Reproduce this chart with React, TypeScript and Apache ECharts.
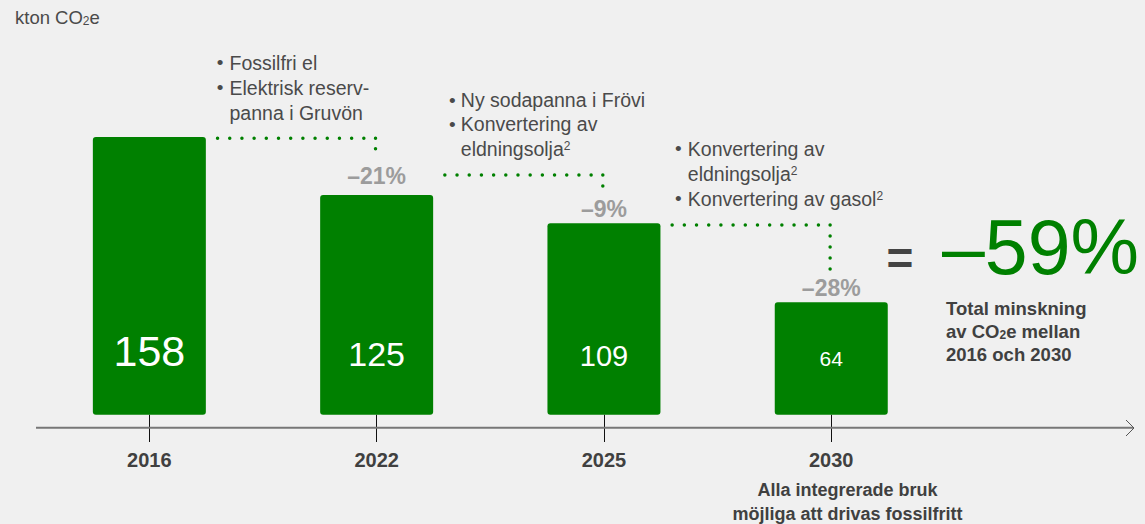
import React, { useEffect, useRef } from "react";
import * as echarts from "echarts";

// ---- Data ----
const years = ["2016", "2022", "2025", "2030"];
const emissions = [158, 125, 109, 64];
const changes: (number | null)[] = [null, -21, -9, -28];
const totalChange = -59;
const unitMain = "kton CO";
const noteGroups: string[][] = [
  ["Fossilfri el", "Elektrisk reserv-", "panna i Gruvön"],
  ["Ny sodapanna i Frövi", "Konvertering av", "eldningsolja{s|2}"],
  ["Konvertering av", "eldningsolja{s|2}", "Konvertering av gasol{s|2}"],
];
const noteBullets: boolean[][] = [
  [true, true, false],
  [true, true, false],
  [true, false, true],
];
// connectors (step from one bar to the next), in data units
const connStartX = [0.3, 1.3, 2.3];
const connTargetX = [0.995, 1.995, 2.995];
const connLevel = [157.3, 136.4, 108.0];
const connEnd = [145.4, 129.8, 82.9];
const totalText = ["Total minskning", "av CO{s|2}e mellan", "2016 och 2030"];
const footText = ["Alla integrerade bruk", "möjliga att drivas fossilfritt"];

// ---- Styles ----
const GREEN = "#008000";
const DARK = "#4a4a4a";
const BOLDTXT = "#404040";
const valueFontSizes = [43, 34, 29, 21];
const changeGaps = [0, 8, 3, 3];
const FONT = '"Liberation Sans", Arial, Helvetica, sans-serif';

const fmtChange = (c: number) => "\u2013" + Math.abs(c) + "%";

export default function App() {
  const ref = useRef<HTMLDivElement>(null);
  useEffect(() => {
    if (!ref.current) return;
    const chart = echarts.init(ref.current, null, { renderer: "svg" });

    const noteLayout = [
      { bx: 220, tx: 229.5, top: 50, lh: 25.3 },
      { bx: 452.3, tx: 460.8, top: 88, lh: 24.2 },
      { bx: 678.3, tx: 687.8, top: 136.3, lh: 25 },
    ];

    const graphics: any[] = [];
    // unit label
    graphics.push({
      type: "text",
      left: 15,
      top: 8,
      style: {
        text: "{a|" + unitMain + "}{s|2}{a|e}",
        rich: {
          a: { fontSize: 18.5, lineHeight: 23, verticalAlign: "bottom", fill: DARK, fontFamily: FONT },
          s: { fontSize: 12, lineHeight: 12, verticalAlign: "bottom", fill: DARK, fontFamily: FONT },
        },
      },
    });
    noteGroups.forEach((lines, gi) => {
      const L = noteLayout[gi];
      graphics.push({
        type: "text",
        x: L.bx,
        y: L.top,
        style: {
          text: noteBullets[gi].map((b) => (b ? "•" : " ")).join("\n"),
          fontSize: 19,
          lineHeight: L.lh,
          align: "center",
          verticalAlign: "top",
          fill: DARK,
          fontFamily: FONT,
        },
      });
      graphics.push({
        type: "text",
        x: L.tx,
        y: L.top,
        style: {
          text: lines.map((t) => "{n|" + t.replace(/\{s\|2\}/g, "}{s|2}{n|") + "}").join("\n"),
          verticalAlign: "top",
          rich: {
            n: { fontSize: 19.5, lineHeight: L.lh, fill: DARK, fontFamily: FONT },
            s: { fontSize: 12, lineHeight: 17, padding: [0, 0, 6, 0], verticalAlign: "middle", fill: DARK, fontFamily: FONT },
          },
        },
      });
    });
    // axis line with arrow
    graphics.push({
      type: "line",
      shape: { x1: 36, y1: 427.7, x2: 1133, y2: 427.7 },
      style: { stroke: "#777777", lineWidth: 2 },
      z: 1,
    });
    graphics.push({
      type: "polyline",
      shape: { points: [[1126, 420], [1134, 428], [1126, 436]] },
      style: { stroke: "#555555", lineWidth: 1, fill: null },
    });
    // equals sign
    graphics.push({
      type: "text",
      x: 900,
      y: 258.4,
      style: {
        text: "=",
        fontSize: 46,
        fontWeight: "bold",
        align: "center",
        verticalAlign: "middle",
        fill: "#444444",
        fontFamily: FONT,
      },
    });
    graphics.push({
      type: "text",
      x: 942,
      y: 247,
      style: {
        text: fmtChange(totalChange),
        fontSize: 77,
        align: "left",
        verticalAlign: "middle",
        fill: GREEN,
        fontFamily: FONT,
      },
    });
    graphics.push({
      type: "text",
      x: 946,
      y: 294.3,
      style: {
        text: totalText.map((t) => "{b|" + t.replace(/\{s\|2\}/g, "}{s|2}{b|") + "}").join("\n"),
        verticalAlign: "top",
        rich: {
          b: { fontSize: 18.5, fontWeight: "bold", lineHeight: 23.4, verticalAlign: "bottom", fill: BOLDTXT, fontFamily: FONT },
          s: { fontSize: 12, fontWeight: "bold", lineHeight: 12, verticalAlign: "bottom", fill: BOLDTXT, fontFamily: FONT },
        },
      },
    });
    graphics.push({
      type: "text",
      x: 847.5,
      y: 478,
      style: {
        text: footText.join("\n"),
        fontSize: 18,
        fontWeight: "bold",
        lineHeight: 24.3,
        align: "center",
        verticalAlign: "top",
        fill: BOLDTXT,
        fontFamily: FONT,
      },
    });

    const connectorSeries: any[] = [];
    connStartX.forEach((sx, i) => {
      connectorSeries.push({
        type: "line",
        xAxisIndex: 1,
        yAxisIndex: 0,
        data: [
          [sx, connLevel[i]],
          [connTargetX[i], connLevel[i]],
        ],
        symbol: "none",
        silent: true,
        lineStyle: { color: GREEN, width: 3.5, type: [0.01, 12.18], cap: "round" },
        z: 5,
      });
      connectorSeries.push({
        type: "line",
        xAxisIndex: 1,
        yAxisIndex: 0,
        data: [
          [connTargetX[i], connLevel[i]],
          [connTargetX[i], connEnd[i]],
        ],
        symbol: "none",
        silent: true,
        lineStyle: { color: GREEN, width: 3.5, type: [0.01, i === 0 ? 10.5 : 11], cap: "round" },
        z: 5,
      });
    });

    chart.setOption({
      animation: false,
      backgroundColor: "#f0f0f0",
      textStyle: { fontFamily: FONT },
      grid: { left: 35.7, right: 200.1, top: 63.3, bottom: 109.3, containLabel: false },
      xAxis: [
        {
          type: "category",
          data: years,
          axisLine: { show: false },
          axisTick: { show: true, alignWithLabel: true, length: 27.3, lineStyle: { color: "#111111", width: 1 } },
          axisLabel: { fontSize: 20, fontWeight: "bold", color: BOLDTXT, margin: 35.3, fontFamily: FONT },
          splitLine: { show: false },
        },
        { type: "value", min: -0.5, max: 3.5, show: false },
      ],
      yAxis: [{ type: "value", min: 0, max: 200, show: false }],
      graphic: graphics,
      series: [
        {
          type: "bar",
          xAxisIndex: 0,
          barWidth: 113,
          itemStyle: { color: GREEN, borderRadius: 3 },
          data: emissions.map((v, i) => ({
            value: v,
            label: {
              show: true,
              position: "insideBottom",
              distance: 48.7 - 0.142 * valueFontSizes[i],
              fontSize: valueFontSizes[i],
              color: "#ffffff",
              fontFamily: FONT,
            },
          })),
          z: 3,
        },
        {
          type: "bar",
          xAxisIndex: 0,
          barWidth: 113,
          barGap: "-100%",
          silent: true,
          itemStyle: { color: "rgba(0,0,0,0)" },
          data: emissions.map((v, i) => ({
            value: v,
            label: {
              show: changes[i] !== null,
              position: "top",
              distance: changeGaps[i],
              formatter: () => (changes[i] !== null ? fmtChange(changes[i] as number) : ""),
              fontSize: 23,
              fontWeight: "bold",
              color: "#9c9c9c",
              fontFamily: FONT,
            },
          })),
          z: 4,
        },
        ...connectorSeries,
      ],
    });
    return () => chart.dispose();
  }, []);

  return (
    <div
      ref={ref}
      style={{ position: "fixed", left: 0, top: 0, width: 1145, height: 524 }}
    />
  );
}
